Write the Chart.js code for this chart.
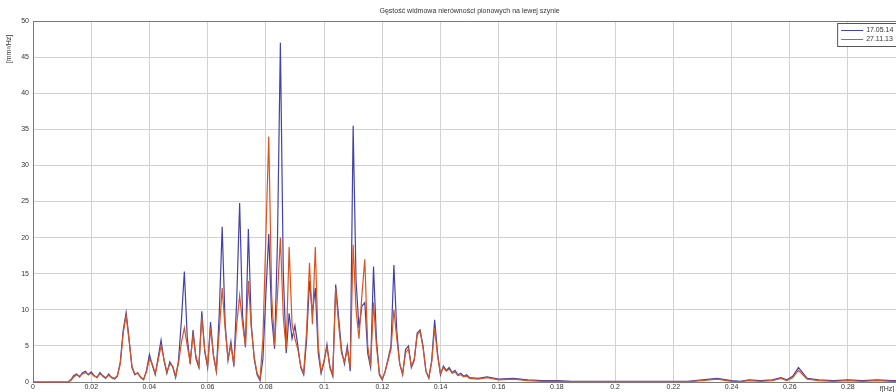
<!DOCTYPE html>
<html>
<head>
<meta charset="utf-8">
<script src="https://cdn.jsdelivr.net/npm/chart.js@4.4.1/dist/chart.umd.min.js"></script>
<style>
  html, body { margin: 0; padding: 0; background: #fff; overflow: hidden; }
  #wrap { width: 912px; height: 392px; }
</style>
</head>
<body>
<div id="wrap"><canvas id="psd" width="912" height="392"></canvas></div>
<script>
  // ---- data ----
  const titleText  = 'Gęstość widmowa nierówności pionowych na lewej szynie';
  const yLabel     = '[mm²/Hz]';
  const xLabel     = 'f[Hz]';
  const seriesNames = ['17.05.14', '27.11.13'];

  // sampling grid 0 .. 0.150 every 0.001, then a coarser tail
  const freqMain = [];
  for (let i = 0; i <= 150; i++) freqMain.push(i / 1000);
  const freqTail = [0.153, 0.156, 0.16, 0.165, 0.17, 0.175, 0.18, 0.185, 0.19, 0.195,
                    0.2, 0.205, 0.21, 0.215, 0.22, 0.225, 0.23, 0.235, 0.24, 0.243,
                    0.246, 0.25, 0.254, 0.257, 0.259, 0.261, 0.263, 0.266, 0.27, 0.275,
                    0.28, 0.285, 0.29, 0.295, 0.3];

  const blueMain = [
    0,0,0,0,0,0,0,0,0,0, 0,0,0,0.3,0.9,1.1,0.7,1.3,1.5,1.0,
    1.4,0.9,0.6,1.3,0.8,0.5,1.1,0.6,0.4,0.8, 2.8,7.2,9.6,6.0,2.0,1.0,1.3,0.6,0.3,1.6,
    3.8,2.3,1.0,3.4,5.8,3.0,1.2,2.8,2.1,0.6, 3.0,8.6,15.3,6.2,2.5,7.2,3.2,2.0,9.8,4.2,
    2.0,8.3,3.6,1.4,9.5,21.5,8.2,3.0,5.6,2.2, 11.5,24.8,9.2,4.8,21.2,8.0,3.2,1.0,0.2,3.2,
    12.0,20.5,9.0,4.6,19.5,47.0,15.0,4.0,9.5,6.0, 7.8,5.0,2.0,1.0,5.8,14.0,9.5,13.0,4.0,1.2,
    2.8,5.2,2.0,0.8,13.5,9.0,4.5,2.5,5.0,1.5, 35.5,14.0,7.5,10.5,11.0,4.0,2.0,16.0,6.0,1.0,
    0.3,1.5,3.2,5.0,16.2,7.0,2.5,1.0,4.5,5.0, 2.0,3.0,6.8,7.2,5.0,1.5,0.5,3.0,8.6,4.0,
    1.0,2.2,1.6,2.0,1.3,1.6,1.0,1.2,0.8,1.0, 0.6
  ];
  const blueTail = [0.5,0.7,0.4,0.5,0.3,0.2,0.2,0.1,0.1,0.1,
                    0.1,0.1,0.1,0.1,0.1,0.1,0.3,0.5,0.2,0.1,
                    0.3,0.2,0.3,0.6,0.3,0.8,2.0,0.5,0.3,0.2,
                    0.3,0.2,0.3,0.2,0.2];

  const redMain = [
    0,0,0,0,0,0,0,0,0,0, 0,0,0,0.2,0.7,1.0,0.8,1.1,1.3,1.1,
    1.2,0.8,0.7,1.1,0.9,0.6,0.9,0.7,0.5,0.9, 2.5,6.8,9.2,5.8,2.2,1.1,1.2,0.7,0.4,1.4,
    3.2,2.5,1.2,3.0,5.0,3.2,1.4,2.5,2.2,0.8, 2.6,5.5,7.5,5.0,2.8,6.5,3.5,2.2,9.0,4.5,
    2.2,7.5,3.8,1.6,7.0,13.0,7.5,3.2,5.0,2.5, 8.0,12.0,8.0,5.0,14.0,7.5,3.5,1.2,0.4,6.0,
    20.0,34.0,12.0,5.0,12.0,20.0,9.0,4.5,18.7,8.0, 6.0,4.5,2.2,1.2,7.0,16.5,8.0,18.7,5.0,1.4,
    3.0,4.8,2.2,1.0,13.0,8.0,4.0,2.8,4.5,2.0, 19.0,10.0,6.0,12.0,17.0,5.0,2.2,11.0,5.0,1.2,
    0.4,1.4,3.0,4.5,10.0,6.0,2.5,1.2,4.0,4.6, 2.2,3.2,6.5,7.0,4.8,1.6,0.6,2.8,7.5,3.6,
    1.2,2.0,1.5,1.8,1.2,1.4,0.9,1.0,0.7,0.8, 0.5
  ];
  const redTail = [0.4,0.6,0.3,0.4,0.2,0.1,0.1,0.05,0.05,0.05,
                   0.05,0.05,0.05,0.05,0.05,0.05,0.2,0.4,0.1,0.05,
                   0.2,0.1,0.2,0.5,0.2,0.6,1.6,0.4,0.2,0.1,
                   0.2,0.1,0.2,0.1,0.1];

  const yTicks = [0, 5, 10, 15, 20, 25, 30, 35, 40, 45, 50];
  const xTicks = [0, 0.02, 0.04, 0.06, 0.08, 0.1, 0.12, 0.14, 0.16, 0.18, 0.2, 0.22, 0.24, 0.26, 0.28, 0.3];

  const freq = freqMain.concat(freqTail);
  const toPts = (ys) => ys.map((y, i) => ({ x: freq[i], y: y }));

  const BLUE = '#4242a8';
  const RED  = '#d9541e';
  const FONT = '"Liberation Sans", Arial, sans-serif';

  // titles, axis labels and the boxed legend, MATLAB style
  const decor = {
    id: 'decor',
    afterDraw(chart) {
      const { ctx, chartArea: a } = chart;
      ctx.save();
      // top frame line
      ctx.strokeStyle = '#7a7a7a';
      ctx.lineWidth = 1;
      ctx.beginPath();
      ctx.moveTo(a.left, a.top + 0.5);
      ctx.lineTo(a.right, a.top + 0.5);
      ctx.stroke();

      ctx.fillStyle = '#333';
      ctx.font = '7px ' + FONT;
      ctx.textAlign = 'center';
      ctx.textBaseline = 'middle';
      ctx.fillText(titleText, (a.left + a.right) / 2, 11);

      ctx.textAlign = 'right';
      ctx.fillText(xLabel, a.right - 12, a.bottom + 7);

      ctx.save();
      ctx.translate(9, a.top + 28);
      ctx.rotate(-Math.PI / 2);
      ctx.textAlign = 'center';
      ctx.fillText(yLabel, 0, 0);
      ctx.restore();

      // legend box
      const bx = a.right - 69, by = a.top + 2, bw = 66, bh = 23;
      ctx.fillStyle = '#fff';
      ctx.fillRect(bx, by, bw, bh);
      ctx.strokeStyle = '#555';
      ctx.strokeRect(bx + 0.5, by + 0.5, bw, bh);
      const items = [[seriesNames[0], BLUE], [seriesNames[1], RED]];
      items.forEach(([name, col], k) => {
        const yy = by + 7 + k * 9;
        ctx.strokeStyle = col;
        ctx.beginPath();
        ctx.moveTo(bx + 4, yy + 0.5);
        ctx.lineTo(bx + 26, yy + 0.5);
        ctx.stroke();
        ctx.fillStyle = '#333';
        ctx.textAlign = 'left';
        ctx.fillText(name, bx + 29, yy);
      });
      ctx.restore();
    }
  };

  new Chart(document.getElementById('psd'), {
    type: 'line',
    data: {
      datasets: [
        {
          label: seriesNames[0],
          data: toPts(blueMain.concat(blueTail)),
          borderColor: BLUE,
          borderWidth: 1.2,
          pointRadius: 0,
          tension: 0,
          clip: 3,
          order: 2
        },
        {
          label: seriesNames[1],
          data: toPts(redMain.concat(redTail)),
          borderColor: RED,
          borderWidth: 1.2,
          pointRadius: 0,
          tension: 0,
          clip: 3,
          order: 1
        }
      ]
    },
    options: {
      responsive: false,
      animation: false,
      layout: { padding: { top: 21, right: 3, left: 0, bottom: 0 } },
      plugins: { legend: { display: false }, title: { display: false }, tooltip: { enabled: false } },
      scales: {
        x: {
          type: 'linear',
          min: 0, max: 0.3,
          afterFit: s => { s.height = 10; },
          afterBuildTicks: s => { s.ticks = xTicks.map(v => ({ value: v })); },
          ticks: {
            color: '#333', padding: 1, maxRotation: 0, autoSkip: false,
            font: { family: FONT, size: 7 },
            callback: v => String(+v.toFixed(2))
          },
          grid: { color: '#d2d2d2', drawTicks: false },
          border: { color: '#7a7a7a' }
        },
        y: {
          min: 0, max: 50,
          afterFit: s => { s.width = 33; },
          afterBuildTicks: s => { s.ticks = yTicks.map(v => ({ value: v })); },
          ticks: {
            color: '#333', padding: 4,
            font: { family: FONT, size: 7 }
          },
          grid: { color: '#d2d2d2', drawTicks: false },
          border: { color: '#7a7a7a' }
        }
      }
    },
    plugins: [decor]
  });
</script>
</body>
</html>
